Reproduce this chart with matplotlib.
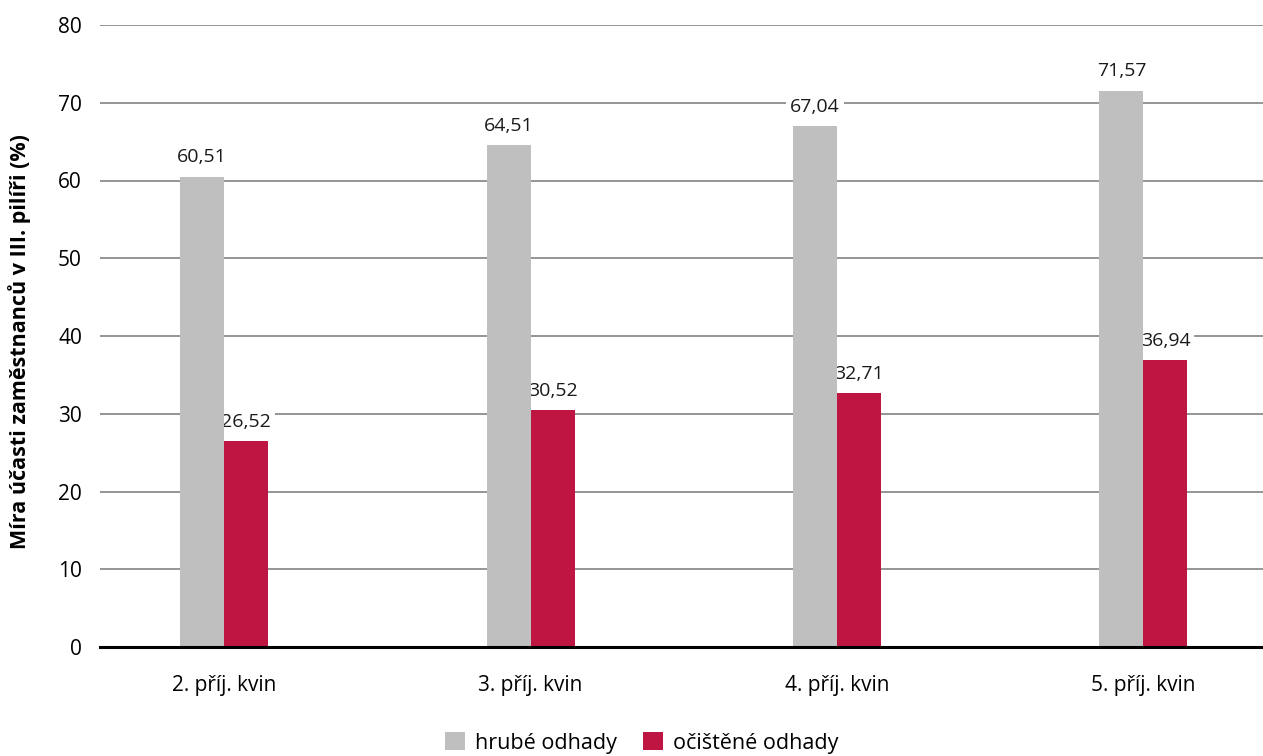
import matplotlib.pyplot as plt
import numpy as np

plt.rcParams['font.family'] = ['Open Sans', 'DejaVu Sans']

categories = ["2. příj. kvin", "3. příj. kvin", "4. příj. kvin", "5. příj. kvin"]
hrube = [60.51, 64.51, 67.04, 71.57]
ocistene = [26.52, 30.52, 32.71, 36.94]
series_names = ["hrubé odhady", "očištěné odhady"]

gray = "#BFBFBF"
red = "#BE1542"

fig = plt.figure(figsize=(12.63, 7.56), dpi=100)
ax = fig.add_axes([100 / 1263, 1 - 647 / 756, 1 - 100 / 1263, (647 - 25) / 756])

x = np.arange(len(categories))
w = 0.1436

b1 = ax.bar(x - w / 2, hrube, w, color=gray, label=series_names[0], zorder=3)
b2 = ax.bar(x + w / 2, ocistene, w, color=red, label=series_names[1], zorder=3)

for bars, vals in ((b1, hrube), (b2, ocistene)):
    for rect, v in zip(bars, vals):
        ax.text(rect.get_x() + rect.get_width() / 2, v + 1.3, f"{v:.2f}".replace(".", ","),
                ha="center", va="bottom", fontsize=14, color="#1a1a1a", zorder=2,
                bbox=dict(facecolor="white", edgecolor="none", pad=3))

ax.set_xlim(-0.405, 3.39)
ax.set_ylim(0, 80)
ax.set_yticks(range(0, 81, 10))
ax.set_xticks(x)
ax.set_xticklabels(categories, fontsize=15)
ax.tick_params(axis="y", labelsize=15, length=0, pad=13)
ax.tick_params(axis="x", length=0, pad=20)
ax.yaxis.grid(True, color="#959595", linewidth=1.4, zorder=0)
for s in ("top", "right", "left"):
    ax.spines[s].set_visible(False)
ax.spines["bottom"].set_linewidth(2.2)
ax.spines["bottom"].set_zorder(5)

fig.text(20 / 1263, 1 - 342 / 756, "Míra účasti zaměstnanců v III. pilíři (%)",
         rotation=90, ha="center", va="center", fontsize=15.5, fontweight="bold")

fig.legend(handles=[b1, b2], loc="center", bbox_to_anchor=(642 / 1263, 1 - 743 / 756),
           ncol=2, frameon=False, fontsize=15.5, handlelength=0.9, handleheight=0.9,
           handletextpad=0.5, columnspacing=1.2, borderpad=0)

fig.savefig("out.png", dpi=100)
plt.close(fig)
